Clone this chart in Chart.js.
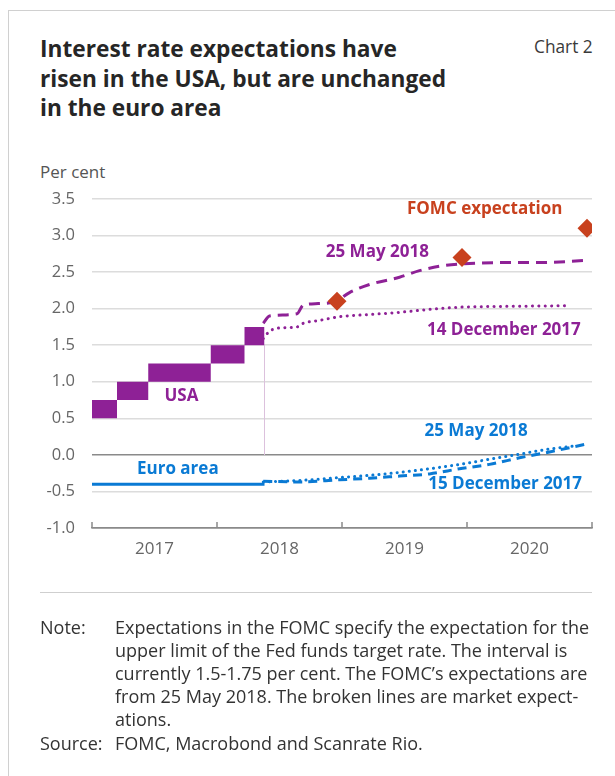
<!DOCTYPE html>
<html>
<head>
<meta charset="utf-8">
<script src="https://cdn.jsdelivr.net/npm/chart.js@4.4.1/dist/chart.umd.min.js"></script>
<style>
  html, body { margin: 0; padding: 0; background: #fff; }
  body { width: 615px; height: 776px; position: relative; overflow: hidden; font-family: "Open Sans", "Noto Sans", sans-serif; }
  #frame { position: absolute; left: 8px; top: 10px; width: 800px; height: 900px; border-left: 1.5px solid #d0d0d0; border-top: 1.5px solid #d0d0d0; }
  #title { position: absolute; left: 40px; top: 34px; font-size: 22.7px; font-weight: 700; line-height: 29.5px; color: #262626; }
  #chartNo { position: absolute; left: 534px; top: 35px; font-size: 17.3px; color: #3a3a3a; }
  #unit { position: absolute; left: 40px; top: 160px; font-size: 17px; color: #555; }
  #chartWrap { position: absolute; left: 0; top: 0; width: 615px; height: 776px; }
  #rule { position: absolute; left: 40px; top: 592px; width: 552px; border-top: 1.5px solid #cfcfcf; }
  .foot { position: absolute; left: 40px; font-size: 18px; line-height: 23px; color: #333; white-space: nowrap; }
  .foot .lbl { position: absolute; left: 0; }
  .foot .txt { position: absolute; left: 75px; }
</style>
</head>
<body>
<div id="frame"></div>
<div id="title">Interest rate expectations have<br>risen in the USA, but are unchanged<br>in the euro area</div>
<div id="chartNo">Chart 2</div>
<div id="unit">Per cent</div>
<div id="chartWrap"><canvas id="chart" width="615" height="776"></canvas></div>
<div id="rule"></div>
<div class="foot" style="top:616px">
  <span class="lbl">Note:</span>
  <span class="txt">Expectations in the FOMC specify the expectation for the<br>upper limit of the Fed funds target rate. The interval is<br>currently 1.5-1.75 per cent. The FOMC’s expectations are<br>from 25 May 2018. The broken lines are market expect-<br>ations.</span>
</div>
<div class="foot" style="top:732px">
  <span class="lbl">Source:</span>
  <span class="txt">FOMC, Macrobond and Scanrate Rio.</span>
</div>

<script>
const PURPLE = "#8e2196";
const BLUE = "#0a7ad4";
const RED = "#c8411e";

// time axis in decimal years
const yearTicks = [2017, 2018, 2019, 2020, 2021];
const yearLabels = [2017.5, 2018.5, 2019.5, 2020.5];
const today = 2018.38;

// Fed funds target range (start of each period)
const fedDates = [2017.0, 2017.2, 2017.45, 2017.95, 2018.22, today];
const fedUpper = [0.75, 1.0, 1.25, 1.5, 1.75, 1.75];
const fedLower = [0.5, 0.75, 1.0, 1.25, 1.5, 1.5];

// US market expectations
const usMayX = [2018.37, 2018.42, 2018.64, 2018.69, 2018.81, 2018.95, 2019.06, 2019.22, 2019.46, 2019.62, 2019.78, 2019.94, 2020.26, 2020.58, 2020.96];
const usMayY = [1.80, 1.90, 1.93, 2.05, 2.07, 2.10, 2.22, 2.33, 2.43, 2.52, 2.58, 2.61, 2.63, 2.63, 2.66];
const usDecX = [2018.37, 2018.42, 2018.54, 2018.64, 2018.69, 2018.82, 2018.98, 2019.22, 2019.46, 2019.70, 2019.94, 2020.26, 2020.79];
const usDecY = [1.59, 1.69, 1.74, 1.75, 1.80, 1.84, 1.89, 1.92, 1.95, 1.99, 2.02, 2.03, 2.04];

// FOMC projections
const fomcX = [2018.96, 2019.96, 2020.96];
const fomcY = [2.1, 2.7, 3.1];

// Euro area deposit rate and market expectations
const euroX = [2017.0, today];
const euroY = [-0.4, -0.4];
const euMayX = [2018.37, 2018.66, 2018.98, 2019.22, 2019.46, 2019.70, 2019.94, 2020.18, 2020.42, 2020.66, 2020.85];
const euMayY = [-0.37, -0.35, -0.31, -0.28, -0.24, -0.19, -0.13, -0.06, 0.01, 0.08, 0.12];
const euDecX = [2018.37, 2018.66, 2018.98, 2019.22, 2019.46, 2019.70, 2019.94, 2020.18, 2020.42, 2020.66, 2020.96];
const euDecY = [-0.36, -0.37, -0.34, -0.32, -0.29, -0.26, -0.19, -0.13, -0.04, 0.04, 0.15];

// labels placed in data coordinates (left edge, vertical centre)
const notes = [
  { text: "FOMC expectation", x: 2019.52, y: 3.36, color: RED },
  { text: "25 May 2018", x: 2018.87, y: 2.77, color: PURPLE },
  { text: "14 December 2017", x: 2019.68, y: 1.70, color: PURPLE },
  { text: "USA", x: 2017.58, y: 0.80, color: PURPLE },
  { text: "Euro area", x: 2017.36, y: -0.19, color: BLUE },
  { text: "25 May 2018", x: 2019.66, y: 0.32, color: BLUE },
  { text: "15 December 2017", x: 2019.69, y: -0.40, color: BLUE },
];

const pts = (xs, ys) => xs.map((x, i) => ({ x, y: ys[i] }));

const line = (data, color, dash, extra = {}) => ({
  type: "line",
  data,
  borderColor: color,
  borderWidth: 3,
  borderDash: dash,
  borderCapStyle: dash[0] < 1 ? "round" : "butt",
  pointRadius: 0,
  fill: false,
  cubicInterpolationMode: "monotone",
  ...extra,
});

const labelPlugin = {
  id: "labels",
  afterDatasetsDraw(chart) {
    const { ctx, scales: { x, y } } = chart;
    ctx.save();
    ctx.font = "700 17px 'Open Sans', sans-serif";
    ctx.textBaseline = "middle";
    ctx.textAlign = "left";
    notes.forEach((n) => {
      ctx.fillStyle = n.color;
      ctx.fillText(n.text, x.getPixelForValue(n.x), y.getPixelForValue(n.y));
    });
    ctx.restore();
  },
};

// short year marks pointing up from the bottom axis
const yearMarks = {
  id: "yearMarks",
  afterDraw(chart) {
    const { ctx, chartArea, scales: { x } } = chart;
    ctx.save();
    ctx.strokeStyle = "#8a8a8a";
    ctx.lineWidth = 1.5;
    yearTicks.forEach((v) => {
      const px = Math.round(x.getPixelForValue(v));
      ctx.beginPath();
      ctx.moveTo(px, chartArea.bottom);
      ctx.lineTo(px, chartArea.bottom - 6);
      ctx.stroke();
    });
    ctx.restore();
  },
};

new Chart(document.getElementById("chart"), {
  type: "line",
  data: {
    datasets: [
      {
        type: "scatter",
        data: pts(fomcX, fomcY),
        pointStyle: "rectRot",
        pointRadius: 9.5,
        backgroundColor: RED,
        borderWidth: 0,
        order: 0,
      },
      line(pts(usMayX, usMayY), PURPLE, [11, 7], { order: 1 }),
      line(pts(usDecX, usDecY), PURPLE, [0.1, 6.3], { order: 1 }),
      line(pts(euMayX, euMayY), BLUE, [0.1, 6], { order: 1 }),
      line(pts(euDecX, euDecY), BLUE, [9, 6], { order: 1 }),
      line(pts(euroX, euroY), BLUE, [], { order: 1 }),
      {
        type: "line",
        data: pts([today, today], [1.5, 0]),
        borderColor: "#dcc1dd",
        borderWidth: 1,
        pointRadius: 0,
        order: 3,
      },
      {
        type: "line",
        data: pts(fedDates, fedUpper),
        stepped: "before",
        borderWidth: 0,
        borderColor: PURPLE,
        backgroundColor: PURPLE,
        pointRadius: 0,
        fill: "+1",
        order: 2,
      },
      {
        type: "line",
        data: pts(fedDates, fedLower),
        stepped: "before",
        borderWidth: 0,
        pointRadius: 0,
        fill: false,
        order: 2,
      },
    ],
  },
  options: {
    responsive: false,
    animation: false,
    layout: { padding: { top: 199, right: 23, bottom: 206, left: 0 } },
    plugins: { legend: { display: false }, tooltip: { enabled: false } },
    scales: {
      x: {
        type: "linear",
        min: 2017,
        max: 2021,
        afterBuildTicks: (scale) => {
          scale.ticks = yearLabels.map((v) => ({ value: v }));
        },
        afterFit: (scale) => {
          scale.height = 42;
        },
        ticks: {
          callback: (v) => String(Math.floor(v)),
          color: "#666",
          font: { size: 17, family: "'Open Sans', sans-serif" },
          padding: 11,
        },
        grid: { display: false, drawTicks: false },
        border: { display: true, color: "#8a8a8a", width: 1.5 },
      },
      y: {
        min: -1,
        max: 3.5,
        afterFit: (scale) => {
          scale.width = 92;
        },
        ticks: {
          stepSize: 0.5,
          callback: (v) => v.toFixed(1),
          color: "#666",
          font: { size: 16.5, family: "'Open Sans', sans-serif" },
          padding: 17,
        },
        grid: {
          drawTicks: false,
          lineWidth: 1.5,
          color: (c) => (c.tick.value === 0 || c.tick.value === -1 ? "#8a8a8a" : "#dcdcdc"),
        },
        border: { display: false },
      },
    },
  },
  plugins: [labelPlugin, yearMarks],
});
</script>
</body>
</html>
